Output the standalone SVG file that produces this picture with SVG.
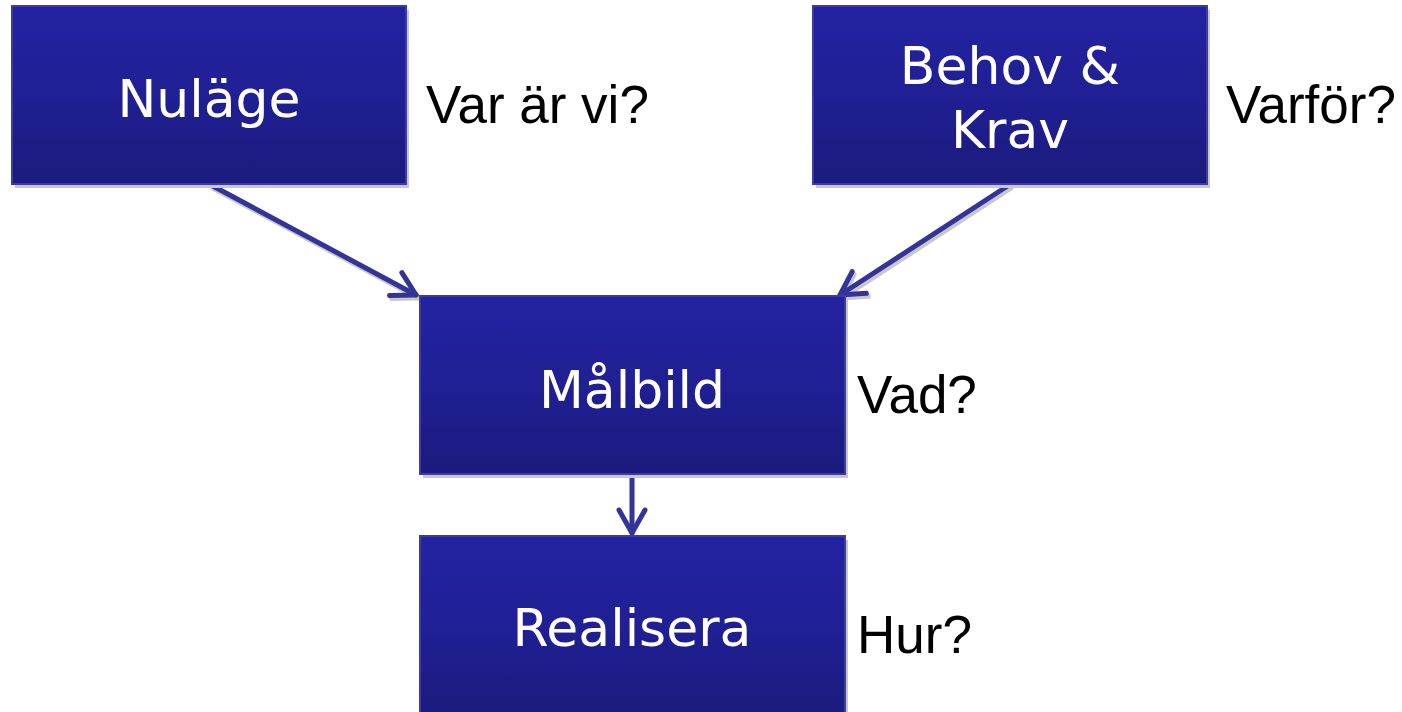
<svg xmlns="http://www.w3.org/2000/svg" width="1402" height="712" viewBox="0 0 1402 712">
<defs>
<linearGradient id="g" x1="0" y1="0" x2="0" y2="1">
<stop offset="0" stop-color="#2323a2"/>
<stop offset="0.5" stop-color="#201f94"/>
<stop offset="1" stop-color="#1b1a7c"/>
</linearGradient>
<marker id="ah" viewBox="0 0 32 32" refX="28" refY="16" markerWidth="32" markerHeight="32" markerUnits="userSpaceOnUse" orient="auto">
<path d="M5,3 L28,16 L5,29" fill="none" stroke="#33339a" stroke-width="5" stroke-linecap="round" stroke-linejoin="round"/>
</marker>
<marker id="ahs" viewBox="0 0 32 32" refX="28" refY="16" markerWidth="32" markerHeight="32" markerUnits="userSpaceOnUse" orient="auto">
<path d="M5,3 L28,16 L5,29" fill="none" stroke="#c8c8c8" stroke-width="5" stroke-linecap="round" stroke-linejoin="round"/>
</marker>
</defs>
<style>
.sh{fill:#c8c8c8}
.box{fill:url(#g);stroke:#3c3ca8;stroke-width:2}
.t{font-family:"DejaVu Sans",Verdana,sans-serif;font-size:52px;fill:#ffffff;text-anchor:middle}
.q{font-family:"Liberation Sans",Arial,sans-serif;font-size:53px;fill:#000000}
.c{fill:none;stroke:#33339a;stroke-width:5;stroke-linecap:round}
.cs{fill:none;stroke:#c8c8c8;stroke-width:5;stroke-linecap:round}
</style>
<rect width="1402" height="712" fill="#ffffff"/>
<g id="connectors">
<line class="cs" x1="213" y1="188" x2="418" y2="298" marker-end="url(#ahs)"/>
<line class="cs" x1="1011" y1="188" x2="842" y2="298" marker-end="url(#ahs)"/>
<line class="c" x1="211" y1="185" x2="416" y2="295" marker-end="url(#ah)"/>
<line class="c" x1="1009" y1="185" x2="840" y2="295" marker-end="url(#ah)"/>
<line class="c" x1="632" y1="475" x2="632" y2="533" marker-end="url(#ah)"/>
</g>
<g id="nulage">
<rect class="sh" x="15" y="10" width="394" height="178"/>
<rect class="box" x="12" y="6" width="394" height="178"/>
<text class="t" x="209" y="117">Nuläge</text>
</g>
<g id="behov">
<rect class="sh" x="816" y="10" width="394" height="178"/>
<rect class="box" x="813" y="6" width="394" height="178"/>
<text class="t" x="1010" y="84">Behov &amp;</text>
<text class="t" x="1010" y="148">Krav</text>
</g>
<g id="malbild">
<rect class="sh" x="423" y="300" width="425" height="178"/>
<rect class="box" x="420" y="296" width="425" height="178"/>
<text class="t" x="632" y="408">Målbild</text>
</g>
<g id="realisera">
<rect class="sh" x="423" y="540" width="425" height="178"/>
<rect class="box" x="420" y="536" width="425" height="182"/>
<text class="t" x="632" y="646">Realisera</text>
</g>
<g id="labels">
<text class="q" x="426" y="123">Var är vi?</text>
<text class="q" x="1226" y="123">Varför?</text>
<text class="q" x="857" y="413">Vad?</text>
<text class="q" x="857" y="653">Hur?</text>
</g>
</svg>
